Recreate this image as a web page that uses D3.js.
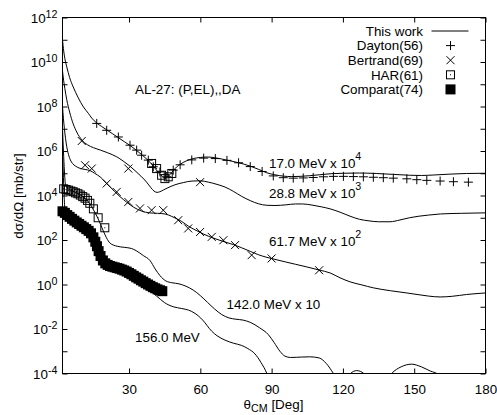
<!DOCTYPE html>
<html>
<head>
<meta charset="utf-8">
<script src="https://cdn.jsdelivr.net/npm/d3@7"></script>
<style>
  body { margin: 0; background: #fff; }
  text { font-family: "Liberation Sans", Arial, Helvetica, sans-serif; font-size: 13.4px; fill: #000; }
</style>
</head>
<body>
<svg id="chart" width="497" height="415"></svg>
<script>
// Al-27 (p,p) elastic angular distributions.
// Every pair is [theta_CM in degrees, log10 of dσ/dΩ in mb/str] (already scaled by the factor in the label).

// Optical-model calculations ("This work")
const calc17 = [[2,11.0],[2.5,10.5],[3,10.15],[3.8,9.78],[5,9.3],[6.5,8.88],[8.5,8.42],[10.8,7.98],[12.9,7.69],[14.3,7.48],[16.4,7.26],[18.5,7.1],[20.6,6.95],[23,6.78],[25.5,6.6],[28,6.42],[30.4,6.25],[33,6.04],[35.5,5.82],[38,5.58],[40.2,5.32],[42,5.08],[43.5,4.9],[44.8,4.8],[46,4.83],[47.3,4.95],[48.6,5.12],[50,5.28],[51.5,5.4],[54,5.55],[57,5.66],[60,5.71],[63,5.73],[66,5.7],[69,5.64],[72,5.57],[75,5.5],[78,5.42],[81,5.32],[84.4,5.18],[88,5.02],[91.4,4.93],[95,4.87],[98.5,4.85],[102,4.86],[106,4.89],[110,4.93],[115,4.98],[120,5.0],[127,5.01],[134,4.99],[141,4.95],[148,4.91],[153,4.9],[158,4.92],[165,4.96],[172,4.99],[180,5.0]];
const calc288 = [[2,9.6],[2.5,9.15],[3,8.8],[3.8,8.3],[5,7.75],[6.5,7.22],[8,6.85],[10.1,6.5],[12.5,6.28],[15,6.15],[18,6.04],[21,5.92],[24.8,5.74],[27.5,5.55],[30,5.35],[32.5,5.12],[35,4.87],[37.4,4.6],[39.2,4.35],[40.5,4.2],[41.8,4.14],[43,4.17],[44.5,4.25],[46,4.33],[49.3,4.48],[52.8,4.58],[56.5,4.65],[59.9,4.66],[63.4,4.6],[67,4.5],[70.4,4.38],[74,4.18],[77.4,3.96],[81,3.77],[84.4,3.63],[88,3.56],[91.4,3.55],[96,3.58],[100,3.62],[103,3.62],[107,3.57],[111,3.49],[114.6,3.4],[118.8,3.25],[123,3.07],[127,2.93],[131,2.86],[135,2.82],[139.8,2.82],[144,2.9],[148,3.0],[152,3.07],[156,3.12],[161,3.17],[170,3.2],[180,3.22]];
const calc617 = [[2,8.0],[2.4,7.45],[2.8,7.0],[3.3,6.55],[3.8,6.19],[4.5,5.85],[5.3,5.6],[6.2,5.44],[7.5,5.32],[9.4,5.22],[11.5,5.17],[13.6,5.12],[15.5,5.0],[17.8,4.84],[20,4.61],[22,4.39],[24,4.17],[26.2,3.95],[29,3.7],[32,3.47],[35.3,3.3],[38.5,3.22],[42,3.2],[45.1,3.17],[48,3.06],[50.5,2.93],[52.2,2.83],[55,2.62],[59,2.39],[63.4,2.17],[67,2.03],[70.4,1.91],[74,1.79],[77.4,1.65],[81,1.49],[84.4,1.34],[88,1.22],[91.4,1.13],[96,1.01],[100,0.91],[104.8,0.79],[110,0.65],[114.6,0.52],[118.8,0.3],[123,0.12],[128,-0.02],[132.8,-0.15],[140,-0.28],[146.9,-0.38],[152,-0.46],[156,-0.52],[160.9,-0.56],[166,-0.53],[172,-0.45],[180,-0.38]];
const calc142 = [[2,7.0],[2.4,6.0],[2.8,5.1],[3.2,4.55],[4,4.35],[6,4.22],[8,4.12],[10,4.0],[12,3.82],[13.6,3.62],[15,3.36],[17,2.95],[19,2.45],[20.5,2.1],[22,1.86],[25,1.72],[28,1.67],[31,1.62],[33,1.52],[36,1.3],[38.8,1.08],[41,0.7],[43,0.4],[45.5,0.16],[48,0.08],[51,0.03],[54,-0.08],[57,-0.25],[60,-0.5],[63,-0.8],[66,-1.1],[69,-1.35],[72,-1.5],[75,-1.56],[78,-1.6],[81,-1.7],[85,-1.95],[88.6,-2.25],[91,-2.6],[93.5,-3.0],[95.6,-3.22],[98,-3.28],[102.7,-3.26],[106,-3.25],[110,-3.3],[113,-3.55],[116,-4.0],[119.5,-4.6],[123.2,-4.0],[125.8,-3.87],[128.8,-4.0],[134,-5.2],[140.5,-4.0],[144.5,-3.7],[148.9,-3.58],[153,-3.7],[157,-3.9],[159.5,-4.0],[165,-4.8],[172,-5.4],[180,-5.8]];
const calc156 = [[2,6.0],[2.4,4.8],[2.8,3.7],[3.3,3.2],[5,3.0],[8,2.75],[11,2.5],[14,2.2],[16,1.7],[18,1.2],[20,0.85],[23,0.7],[27,0.55],[31,0.3],[35,0.05],[38,-0.2],[41.6,-0.52],[45,-0.82],[48.6,-1.0],[52.2,-1.08],[55,-1.15],[57.8,-1.3],[61,-1.6],[64.8,-2.1],[67,-2.3],[70.4,-2.5],[74,-2.64],[77.4,-2.74],[80,-2.88],[83,-3.12],[85.5,-3.5],[88,-4.0],[90,-4.6]];

// Measurements
const dayton56 = [[16.4,7.24],[20.6,6.93],[25.5,6.63],[30.4,6.26],[33.2,6.04],[35.3,5.81],[38.1,5.59],[40.2,5.29],[43,5.06],[45.9,4.84],[48.6,5.14],[51.5,5.38],[56.4,5.6],[61.4,5.68],[66.3,5.66],[71.2,5.58],[76.1,5.47],[81,5.3],[86,5.08],[90.7,4.88],[94.9,4.8],[99.1,4.78],[103.3,4.79],[107.5,4.81],[111.8,4.84],[116,4.86],[120.2,4.86],[124.4,4.85],[128.6,4.84],[132.8,4.82],[137,4.8],[141.2,4.78],[146.9,4.75],[151.1,4.71],[155.3,4.68],[160.9,4.65],[166.5,4.62],[172.8,4.6]];
const bertrand69at288 = [[10.1,6.45],[29.7,5.21],[59.9,4.6]];
const bertrand69at617 = [[11.5,5.36],[14.3,5.21],[20.6,4.54],[24.8,4.16],[29.7,3.71],[34.6,3.42],[39.5,3.34],[44.4,3.34],[50.7,2.89],[54.9,2.52],[59.9,2.36],[64.8,2.14],[69.7,1.99],[74.6,1.77],[81.6,1.32],[90,1.17],[110,0.64]];
const har61at17 = [[39.5,5.44],[41.6,5.21],[43.7,4.91],[45.1,4.76],[46.5,4.84],[48,4.99]];
const har61at142 = [[2.5,4.3],[3.5,4.27],[4.5,4.24],[5.5,4.2],[6.5,4.17],[7.5,4.12],[8.5,4.08],[9.5,4.02],[10.5,3.95],[11.5,3.88],[12.5,3.78],[13.5,3.65],[15,3.4],[17,3.0],[19.8,2.55]];
const comparat74 = [[2,3.29],[3,3.22],[4,3.12],[5,3.04],[6,2.95],[7,2.87],[8,2.79],[9,2.72],[10,2.64],[11,2.57],[12,2.49],[13,2.41],[14,2.3],[15,2.12],[15.8,1.92],[16.5,1.72],[17.2,1.5],[18,1.28],[19,1.08],[20,0.95],[21,0.88],[22,0.83],[23,0.8],[24,0.77],[25,0.74],[26,0.71],[27,0.67],[28,0.63],[29,0.58],[30,0.52],[31,0.46],[32,0.39],[33,0.32],[34,0.26],[35,0.19],[36,0.13],[37,0.06],[38,0.0],[39,-0.06],[40,-0.12],[41,-0.17],[42,-0.22],[43,-0.26],[44,-0.3]];

// Axis ticks
const xTickValues = [30, 60, 90, 120, 150, 180];
const yTickExponents = [-4,-3,-2,-1,0,1,2,3,4,5,6,7,8,9,10,11,12];
const yLabelExponents = [-4,-2,0,2,4,6,8,10,12];

const legendItems = ["This work", "Dayton(56)", "Bertrand(69)", "HAR(61)", "Comparat(74)"];

// ---------------------------------------------------------------------------
const svg = d3.select("#chart");
const L = 62.5, R = 485.5, T = 17.5, B = 373.5;
const x = d3.scaleLinear().domain([2, 180]).range([L, R]);
const y = d3.scaleLog().domain([1e-4, 1e12]).range([B, T]);
const px = d => x(d[0]);
const py = d => y(Math.pow(10, d[1]));

svg.append("defs").append("clipPath").attr("id", "plotClip")
  .append("rect").attr("x", L).attr("y", T).attr("width", R - L).attr("height", B - T);

// calculated curves
const line = d3.line().x(px).y(py).curve(d3.curveMonotoneX);
const gCurves = svg.append("g").attr("clip-path", "url(#plotClip)");
[calc17, calc288, calc617, calc142, calc156].forEach(c => {
  gCurves.append("path").attr("d", line(c))
    .attr("fill", "none").attr("stroke", "#000").attr("stroke-width", 1);
});

// symbols
const plusPath = "M-4.5,0H4.5M0,-4.5V4.5";
const crossPath = "M-4,-4L4,4M-4,4L4,-4";
const gPts = svg.append("g");
function drawPath(data, d) {
  gPts.append("g").selectAll("path").data(data).join("path")
    .attr("transform", p => `translate(${px(p)},${py(p)})`)
    .attr("d", d).attr("fill", "none").attr("stroke", "#000").attr("stroke-width", 1);
}
function drawOpenSquares(data) {
  const g = gPts.append("g").selectAll("g").data(data).join("g")
    .attr("transform", p => `translate(${px(p)},${py(p)})`);
  g.append("rect").attr("x", -4).attr("y", -4).attr("width", 8).attr("height", 8)
    .attr("fill", "none").attr("stroke", "#000").attr("stroke-width", 1);
  g.append("rect").attr("x", -0.5).attr("y", -0.5).attr("width", 1).attr("height", 1).attr("fill", "#000");
}
function drawFilledSquares(data) {
  gPts.append("g").selectAll("rect").data(data).join("rect")
    .attr("x", p => px(p) - 5).attr("y", p => py(p) - 5)
    .attr("width", 10).attr("height", 10).attr("fill", "#000");
}
drawFilledSquares(comparat74);
drawOpenSquares(har61at142);
drawOpenSquares(har61at17);
drawPath(dayton56, plusPath);
drawPath(bertrand69at288, crossPath);
drawPath(bertrand69at617, crossPath);

// axes with inward ticks on all four sides
function styleAxis(g) {
  g.select(".domain").remove();
  g.selectAll(".tick line").attr("stroke", "#000").attr("stroke-width", 1);
  g.attr("font-size", null).attr("font-family", null);
}
const yTicks = yTickExponents.map(k => Math.pow(10, k));
svg.append("g").attr("transform", `translate(0,${B})`)
  .call(d3.axisBottom(x).tickValues(xTickValues).tickSize(-5).tickPadding(11).tickFormat(d3.format("d")))
  .call(styleAxis);
svg.append("g").attr("transform", `translate(0,${T})`)
  .call(d3.axisTop(x).tickValues(xTickValues).tickSize(-5).tickFormat(""))
  .call(styleAxis);
svg.append("g").attr("transform", `translate(${L},0)`)
  .call(d3.axisLeft(y).tickValues(yTicks).tickSize(-5).tickFormat(""))
  .call(styleAxis);
svg.append("g").attr("transform", `translate(${R},0)`)
  .call(d3.axisRight(y).tickValues(yTicks).tickSize(-5).tickFormat(""))
  .call(styleAxis);

svg.append("rect").attr("x", L).attr("y", T).attr("width", R - L).attr("height", B - T)
  .attr("fill", "none").attr("stroke", "#000").attr("stroke-width", 1);

// y tick labels 10^k
svg.append("g").selectAll("text").data(yLabelExponents).join("text")
  .attr("x", L - 5).attr("y", k => y(Math.pow(10, k)) + 5).attr("text-anchor", "end")
  .each(function(k) {
    const t = d3.select(this);
    t.append("tspan").text("10");
    t.append("tspan").attr("dy", -5).style("font-size", "10.7px").text(String(k));
  });

// axis titles
svg.append("text").attr("transform", `translate(23,196) rotate(-90)`)
  .attr("text-anchor", "middle").text("dσ/dΩ [mb/str]");
const xt = svg.append("text").attr("x", 273.5).attr("y", 409).attr("text-anchor", "middle");
xt.append("tspan").text("θ");
xt.append("tspan").attr("dy", 3).style("font-size", "10.7px").text("CM");
xt.append("tspan").attr("dy", -3).text(" [Deg]");

// annotations
function label(xp, yp, main, sup) {
  const t = svg.append("text").attr("x", xp).attr("y", yp);
  t.append("tspan").text(main);
  if (sup) t.append("tspan").attr("dy", -8).style("font-size", "10.7px").text(sup);
}
label(135, 93.5, "AL-27: (P,EL),,DA");
label(269, 168.3, "17.0 MeV x 10", "4");
label(269, 198.3, "28.8 MeV x 10", "3");
label(269, 245.5, "61.7 MeV x 10", "2");
label(226.5, 309, "142.0 MeV x 10");
label(135, 342, "156.0 MeV");

// legend
const legY = [31, 45.6, 60.2, 74.8, 89.4];
const gLeg = svg.append("g");
gLeg.selectAll("text").data(legendItems).join("text")
  .attr("x", 423).attr("y", (d, i) => legY[i] + 4.7).attr("text-anchor", "end").text(d => d);
const sx = 450.5;
gLeg.append("line").attr("x1", 431.5).attr("x2", 468.5).attr("y1", legY[0]).attr("y2", legY[0])
  .attr("stroke", "#000").attr("stroke-width", 1);
gLeg.append("path").attr("transform", `translate(${sx},${legY[1]})`).attr("d", plusPath)
  .attr("fill", "none").attr("stroke", "#000");
gLeg.append("path").attr("transform", `translate(${sx},${legY[2]})`).attr("d", crossPath)
  .attr("fill", "none").attr("stroke", "#000");
gLeg.append("rect").attr("x", sx - 4).attr("y", legY[3] - 4).attr("width", 8).attr("height", 8)
  .attr("fill", "none").attr("stroke", "#000");
gLeg.append("rect").attr("x", sx - 0.5).attr("y", legY[3] - 0.5).attr("width", 1).attr("height", 1).attr("fill", "#000");
gLeg.append("rect").attr("x", sx - 5).attr("y", legY[4] - 5).attr("width", 10).attr("height", 10).attr("fill", "#000");
</script>
</body>
</html>
